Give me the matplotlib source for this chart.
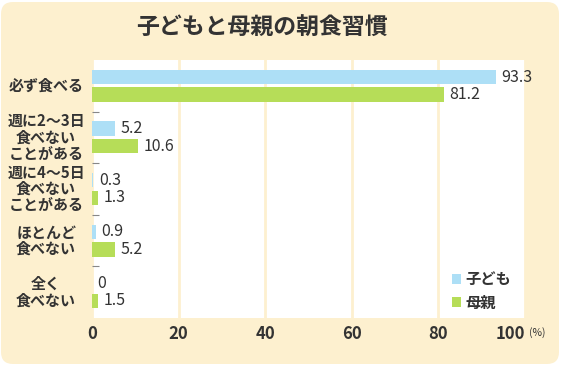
import numpy as np
import matplotlib.pyplot as plt
from matplotlib.patches import FancyBboxPatch
from matplotlib.transforms import IdentityTransform, offset_copy

plt.rcParams['font.family'] = ['Noto Sans CJK JP', 'DejaVu Sans']

# data
categories = ['必ず食べる', '週に2〜3日\n食べない\nことがある', '週に4〜5日\n食べない\nことがある',
              'ほとんど\n食べない', '全く\n食べない']
child = [93.3, 5.2, 0.3, 0.9, 0]
mother = [81.2, 10.6, 1.3, 5.2, 1.5]
series_names = ['子ども', '母親']
xticks = [0, 20, 40, 60, 80, 100]

bg = '#fdf0cf'
txt = '#333333'
blue = '#addff6'
green = '#b6dd58'

fig = plt.figure(figsize=(5.61, 3.65), dpi=100)
fig.patch.set_facecolor('white')

# rounded cream background
card = FancyBboxPatch((1, 1), 558, 362, boxstyle='round,pad=0,rounding_size=12',
                      transform=IdentityTransform(), facecolor=bg, edgecolor='none', zorder=-5)
fig.patches.append(card)

ax = fig.add_axes([92 / 561, 1 - 318 / 365, 433 / 561, 258 / 365])
ax.set_facecolor('white')

y = np.arange(len(categories))
h = 0.28
ax.barh(y - 0.17, child, height=h, color=blue, label=series_names[0], zorder=3)
ax.barh(y + 0.17, mother, height=h, color=green, label=series_names[1], zorder=3)

# value labels
for i in range(len(categories)):
    ax.annotate(f'{child[i]:g}', (child[i], y[i] - 0.17), xytext=(4, 0), textcoords='offset points',
                va='center', ha='left', fontsize=11.5, color=txt)
    ax.annotate(f'{mother[i]:g}', (mother[i], y[i] + 0.17), xytext=(4, 0), textcoords='offset points',
                va='center', ha='left', fontsize=11.5, color=txt)

ax.set_xlim(0, 100)
ax.set_ylim(len(categories) - 0.5, -0.5)

ax.set_xticks(xticks)
ax.set_xticklabels([str(t) for t in xticks], fontsize=12, fontweight='bold', color=txt)
last = ax.get_xticklabels()[-1]
last.set_horizontalalignment('right')
last.set_transform(offset_copy(last.get_transform(), fig=fig, x=3, y=0, units='points'))
ax.tick_params(axis='x', length=0, pad=5)
ax.text(1.01, -0.058, '(%)', transform=ax.transAxes, fontsize=7.5, color=txt, va='center', ha='left')

ax.set_yticks(y)
ax.set_yticklabels(categories, fontsize=10.8, fontweight='bold', color=txt, linespacing=1.02,
                   ha='center', va='center')
ax.tick_params(axis='y', length=0, pad=33)
ax.set_yticks(y[:-1] + 0.5, minor=True)
ax.tick_params(axis='y', which='minor', direction='in', length=5, width=0.8, color='#888888')

ax.grid(axis='x', color=bg, linewidth=2)
ax.set_axisbelow(True)
for s in ax.spines.values():
    s.set_visible(False)

leg = ax.legend(loc='lower right', frameon=False, handlelength=0.6, handleheight=0.6,
                handletextpad=0.3, labelspacing=0.5, prop={'size': 11, 'weight': 'bold'},
                bbox_to_anchor=(1.0, -0.025))
for t in leg.get_texts():
    t.set_color(txt)

fig.text(262 / 561, 1 - 28 / 365, '子どもと母親の朝食習慣', ha='center', va='center',
         fontsize=16.5, fontweight='bold', color=txt)

fig.savefig('out.png', dpi=100)
